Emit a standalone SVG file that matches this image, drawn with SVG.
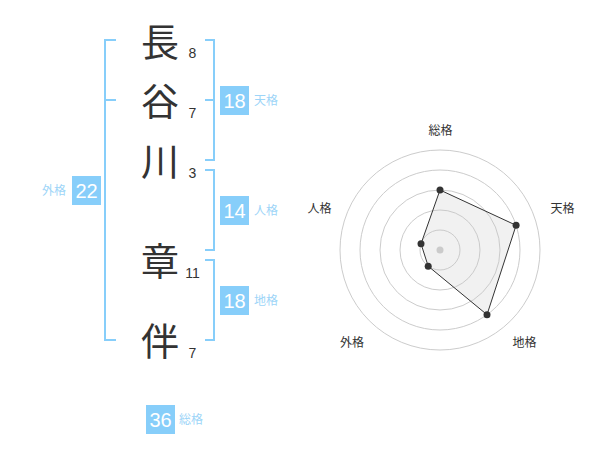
<svg xmlns="http://www.w3.org/2000/svg" width="600" height="470" viewBox="0 0 600 470">
<style>
.kanji{font-family:"Noto Sans CJK JP","Noto Sans CJK SC",sans-serif;font-size:38px;fill:#333;text-anchor:middle}
.stroke{font-family:"Liberation Sans",Arial,sans-serif;font-size:14px;fill:#333;text-anchor:middle}
.br{fill:none;stroke:#87cefa;stroke-width:2}
.box{fill:#87cefa}
.num{font-family:"Liberation Sans",Arial,sans-serif;font-size:20px;fill:#fff;text-anchor:middle}
.lbl{font-family:"Noto Sans CJK JP","Noto Sans CJK SC",sans-serif;font-size:12px;fill:#9dd5f8}
.rl{font-family:"Noto Sans CJK JP","Noto Sans CJK SC",sans-serif;font-size:12px;fill:#333;text-anchor:middle}
.ring{fill:none;stroke:#ccc;stroke-width:1}
.pt{fill:#333}
</style>
<rect width="600" height="470" fill="#fff"/>
<g id="name">
<text class="kanji" x="160" y="55.5">長</text>
<text class="kanji" x="160" y="114.5">谷</text>
<text class="kanji" x="160" y="174.5">川</text>
<text class="kanji" x="160" y="274.5">章</text>
<text class="kanji" x="160" y="354.5">伴</text>
<text class="stroke" x="192.5" y="58">8</text>
<text class="stroke" x="192.5" y="118">7</text>
<text class="stroke" x="192.5" y="178">3</text>
<text class="stroke" x="192.5" y="278">11</text>
<text class="stroke" x="192.5" y="358">7</text>
</g>
<g id="connectors">
<path class="br" d="M116,40 H105 V340 H116 M105,100 H116"/>
<path class="br" d="M205,40 H214 V160 H205 M205,100 H214"/>
<path class="br" d="M205,170 H214 V250 H205"/>
<path class="br" d="M205,260 H214 V340 H205"/>
</g>
<g id="tenkaku">
<rect class="box" x="220" y="86" width="29" height="29"/>
<text class="num" x="234.5" y="107.5">18</text>
<text class="lbl" x="254" y="104.5">天格</text>
</g>
<g id="jinkaku">
<rect class="box" x="220" y="196" width="29" height="29"/>
<text class="num" x="234.5" y="217.5">14</text>
<text class="lbl" x="254" y="214.5">人格</text>
</g>
<g id="chikaku">
<rect class="box" x="220" y="286" width="29" height="29"/>
<text class="num" x="234.5" y="307.5">18</text>
<text class="lbl" x="254" y="304.5">地格</text>
</g>
<g id="gaikaku">
<rect class="box" x="72" y="176" width="29" height="29"/>
<text class="num" x="86.5" y="197.5">22</text>
<text class="lbl" x="66" y="194.5" text-anchor="end">外格</text>
</g>
<g id="soukaku">
<rect class="box" x="146" y="405" width="29" height="29"/>
<text class="num" x="160.5" y="426.5">36</text>
<text class="lbl" x="179" y="424">総格</text>
</g>
<g id="radar">
<circle class="ring" cx="440" cy="250" r="20"/>
<circle class="ring" cx="440" cy="250" r="40"/>
<circle class="ring" cx="440" cy="250" r="60"/>
<circle class="ring" cx="440" cy="250" r="80"/>
<circle class="ring" cx="440" cy="250" r="100"/>
<circle cx="440" cy="250" r="3.5" fill="#ccc"/>
<polygon points="440,190 516.1,225.3 487,314.7 428.2,266.2 421,243.8" fill="rgba(200,200,200,0.25)" stroke="#333" stroke-width="1"/>
<circle class="pt" cx="440" cy="190" r="3.5"/>
<circle class="pt" cx="516.1" cy="225.3" r="3.5"/>
<circle class="pt" cx="487" cy="314.7" r="3.5"/>
<circle class="pt" cx="428.2" cy="266.2" r="3.5"/>
<circle class="pt" cx="421" cy="243.8" r="3.5"/>
<text class="rl" x="440.5" y="135">総格</text>
<text class="rl" x="562.5" y="213">天格</text>
<text class="rl" x="524.5" y="347">地格</text>
<text class="rl" x="352" y="347">外格</text>
<text class="rl" x="319.5" y="213">人格</text>
</g>
</svg>
